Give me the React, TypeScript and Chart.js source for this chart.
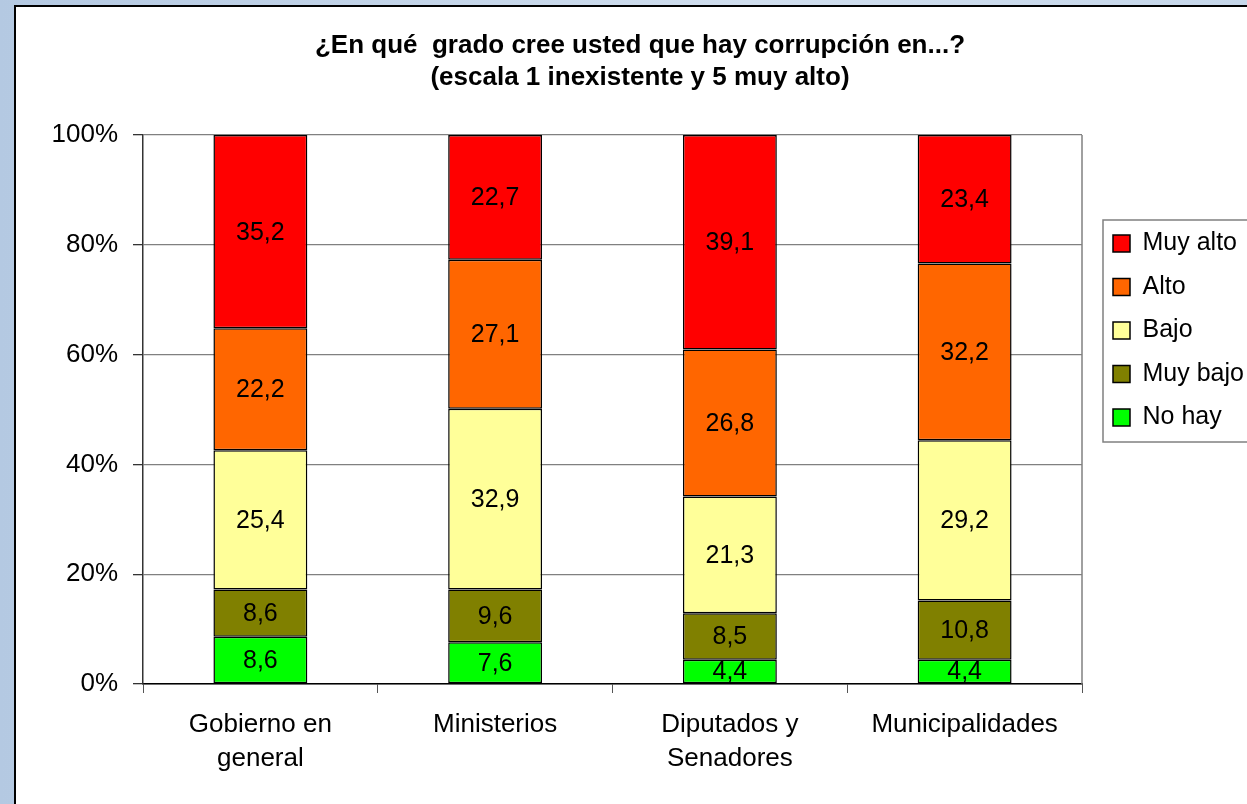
import React, { useEffect, useRef } from "react";
import { Chart, registerables } from "chart.js";

Chart.register(...registerables);

const categories: string[][] = [
  ["Gobierno en", "general"],
  ["Ministerios"],
  ["Diputados y", "Senadores"],
  ["Municipalidades"],
];
const seriesNames = ["No hay", "Muy bajo", "Bajo", "Alto", "Muy alto"];
const noHay = [8.6, 7.6, 4.4, 4.4];
const muyBajo = [8.6, 9.6, 8.5, 10.8];
const bajo = [25.4, 32.9, 21.3, 29.2];
const alto = [22.2, 27.1, 26.8, 32.2];
const muyAlto = [35.2, 22.7, 39.1, 23.4];
const seriesColors = ["#00FF00", "#808000", "#FFFF99", "#FF6600", "#FF0000"];
const yTickValues = [0, 20, 40, 60, 80, 100];
const titleLines = [
  "¿En qué  grado cree usted que hay corrupción en...?",
  "(escala 1 inexistente y 5 muy alto)",
];

const FONT = "'Liberation Sans', Arial, sans-serif";
const seriesValues = [noHay, muyBajo, bajo, alto, muyAlto];
const totals = categories.map((_, i) =>
  seriesValues.reduce((s, arr) => s + arr[i], 0)
);

const titlePlugin = {
  id: "titleLines",
  afterDraw(chart: any) {
    const ctx = chart.ctx;
    ctx.save();
    ctx.font = `bold 26px ${FONT}`;
    ctx.fillStyle = "#000";
    ctx.textAlign = "center";
    ctx.textBaseline = "middle";
    ctx.fillText(titleLines[0], 624, 39);
    ctx.fillText(titleLines[1], 624, 71);
    ctx.restore();
  },
};

const frameLinePlugin = {
  id: "frameLine",
  beforeDatasetsDraw(chart: any) {
    const { ctx, chartArea } = chart;
    ctx.save();
    ctx.strokeStyle = "#808080";
    ctx.lineWidth = 1.5;
    ctx.beginPath();
    ctx.moveTo(chartArea.right, chartArea.top);
    ctx.lineTo(chartArea.right, chartArea.bottom);
    ctx.stroke();
    ctx.restore();
  },
};

const valueLabelPlugin = {
  id: "valueLabels",
  afterDatasetsDraw(chart: any) {
    const ctx = chart.ctx;
    ctx.save();
    ctx.font = `25px ${FONT}`;
    ctx.fillStyle = "#000";
    ctx.textAlign = "center";
    ctx.textBaseline = "middle";
    chart.data.datasets.forEach((ds: any, di: number) => {
      const meta = chart.getDatasetMeta(di);
      meta.data.forEach((el: any, i: number) => {
        const p = el.getProps(["x", "y", "base"], true);
        const v = ds.raw[i];
        ctx.fillText(v.toFixed(1).replace(".", ","), p.x, (p.y + p.base) / 2 + 1);
      });
    });
    ctx.restore();
  },
};

const legendPlacePlugin = {
  id: "legendPlace",
  afterLayout(chart: any) {
    const lg = chart.legend;
    if (!lg) return;
    lg.left = chart.chartArea.right + 12.5;
    lg.top = 205.5;
    lg.right = lg.left + 400;
    lg.bottom = lg.top + 300;
  },
  afterDraw(chart: any) {
    const lg = chart.legend;
    if (!lg) return;
    const ctx = chart.ctx;
    ctx.save();
    ctx.strokeStyle = "#808080";
    ctx.lineWidth = 1.5;
    ctx.strokeRect(lg.left + 8.5, lg.top + 7.5, 400, 222);
    ctx.restore();
  },
};

export default function App() {
  const ref = useRef<HTMLCanvasElement | null>(null);

  useEffect(() => {
    if (!ref.current) return;
    const chart = new Chart(ref.current, {
      type: "bar",
      data: {
        labels: categories,
        datasets: seriesNames.map((name, si) => ({
          label: name,
          raw: seriesValues[si],
          data: seriesValues[si].map((v, i) => (v / totals[i]) * 100),
          backgroundColor: seriesColors[si],
          borderColor: "#000",
          borderWidth: 1.5,
          borderSkipped: false,
          categoryPercentage: 0.8,
          barPercentage: 0.5,
        })) as any,
      },
      options: {
        animation: false,
        responsive: false,
        devicePixelRatio: 1,
        layout: { padding: { top: 128, right: 165, bottom: 0, left: 0 } },
        plugins: {
          title: { display: false },
          tooltip: { enabled: false },
          legend: {
            position: "chartArea" as any,
            align: "start",
            reverse: true,
            labels: {
              boxWidth: 17,
              boxHeight: 17,
              padding: 18.5,
              color: "#000",
              font: { family: FONT, size: 25 },
            },
          },
        },
        scales: {
          x: {
            stacked: true,
            grid: {
              drawOnChartArea: false,
              drawTicks: true,
              tickLength: 9,
              offset: true,
              color: "#555",
              tickColor: "#555",
            },
            border: { display: true, color: "#000", width: 1.5 },
            ticks: {
              color: "#000",
              padding: 15,
              font: { family: FONT, size: 26, lineHeight: 1.31 },
              maxRotation: 0,
              autoSkip: false,
            },
            afterFit(scale: any) {
              scale.height = 120;
            },
          },
          y: {
            stacked: true,
            min: 0,
            max: 100,
            afterBuildTicks(scale: any) {
              scale.ticks = yTickValues.map((v) => ({ value: v }));
            },
            grid: {
              color: "#808080",
              lineWidth: 1.3,
              tickLength: 10,
              tickColor: "#333",
            },
            border: { display: true, color: "#333", width: 1.5 },
            ticks: {
              color: "#000",
              padding: 15,
              font: { family: FONT, size: 26 },
              callback: (v: any) => `${v}%`,
            },
            afterFit(scale: any) {
              scale.width = 127;
            },
          },
        },
      },
      plugins: [titlePlugin, frameLinePlugin, valueLabelPlugin, legendPlacePlugin],
    });
    return () => chart.destroy();
  }, []);

  return (
    <div
      style={{
        position: "fixed",
        left: 0,
        top: 0,
        width: 1247,
        height: 804,
        overflow: "hidden",
        background: "linear-gradient(90deg, #b4c9e2 0%, #d0deee 60%, #c6d7ea 100%)",
      }}
    >
      <div
        style={{
          position: "absolute",
          left: 14,
          top: 5,
          width: 1300,
          height: 850,
          boxSizing: "border-box",
          border: "2px solid #000",
          background: "#fff",
        }}
      >
        <canvas ref={ref} width={1231} height={797} style={{ display: "block" }} />
      </div>
    </div>
  );
}
